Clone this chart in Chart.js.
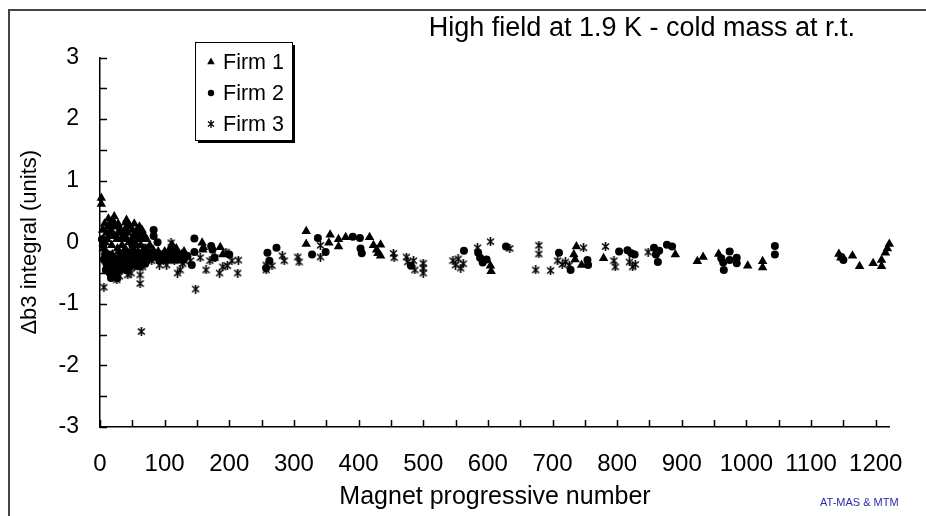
<!DOCTYPE html>
<html>
<head>
<meta charset="utf-8">
<script src="https://cdn.jsdelivr.net/npm/chart.js@4.4.1/dist/chart.umd.min.js"></script>
<style>
  html, body { margin: 0; padding: 0; background: #fff; }
  #wrap { width: 926px; height: 516px; }
</style>
</head>
<body>
<div id="wrap"><canvas id="b3Chart" width="926" height="516"></canvas></div>
<script>
const chartTitle = 'High field at 1.9 K - cold mass at r.t.'
const xTitle = 'Magnet progressive number'
const yTitle = 'Δb3 integral (units)'
const creditText = 'AT-MAS & MTM'
const seriesNames = ['Firm 1', 'Firm 2', 'Firm 3']

const xTickLabels = [0, 100, 200, 300, 400, 500, 600, 700, 800, 900, 1000, 1100, 1200]
const yTickLabels = [-3, -2, -1, 0, 1, 2, 3]
const xTickMarks = [0, 50, 100, 150, 200, 250, 300, 350, 400, 450, 500, 550, 600, 650, 700, 750, 800, 850, 900, 950, 1000, 1050, 1100, 1150, 1200]
const yTickMarks = [-3, -2.5, -2, -1.5, -1, -0.5, 0, 0.5, 1, 1.5, 2, 2.5, 3]

// Firm 1 (triangles): [magnet number, delta b3]
const firm1 = [
  [2, 0.72], [2, 0.62], [4, 0.2], [5, 0.05], [6, -0.1], [7, 0.3], [8, 0.0], [9, -0.15], [10, 0.15], [11, 0.05],
  [12, 0.25], [13, 0.38], [14, 0.1], [15, 0.3], [16, 0.12], [17, 0.2], [18, -0.05], [19, -0.2], [20, 0.35],
  [21, 0.1], [22, 0.42], [23, 0.28], [24, 0.25], [25, 0.1], [26, 0.05], [27, -0.1], [28, 0.3], [29, -0.15],
  [30, 0.15], [31, 0.22], [32, -0.2], [33, 0.05], [34, -0.05], [35, 0.09], [36, -0.3], [37, 0.1], [38, 0.2],
  [39, -0.1], [40, 0.32], [41, 0.36], [42, 0.05], [43, 0.15], [44, 0.28], [45, 0.0], [46, -0.2], [47, 0.25],
  [48, -0.15], [49, 0.05], [50, 0.2], [51, -0.1], [52, 0.1], [53, 0.3], [54, 0.15], [55, -0.05], [56, 0.1],
  [57, 0.2], [58, 0.05], [59, -0.15], [60, 0.12], [61, 0.25], [62, 0.15], [63, -0.05], [64, 0.08], [65, 0.2],
  [66, 0.12], [67, 0.05], [68, -0.1], [69, 0.1], [70, -0.2], [71, -0.1], [72, 0.05], [73, -0.25], [75, -0.15],
  [77, -0.05], [78, -0.25], [80, -0.15], [82, -0.12], [84, -0.2], [86, -0.2], [88, -0.25], [90, -0.15],
  [92, -0.2], [94, -0.3], [96, -0.25], [98, -0.2], [100, -0.15], [102, -0.2], [104, -0.22], [106, -0.3],
  [108, -0.1], [112, -0.05], [114, -0.2], [116, -0.15], [118, -0.1], [120, -0.25], [122, -0.2], [124, -0.3],
  [126, -0.2], [130, -0.15], [158, -0.01], [159, -0.12], [160, -0.08], [186, -0.08], [190, -0.2],
  [319, 0.18], [319, -0.03], [356, 0.12], [354, -0.01], [369, 0.05], [369, -0.07], [380, 0.08],
  [417, 0.08], [423, -0.05], [428, -0.12], [430, -0.18], [434, -0.04], [434, -0.22], [604, -0.38], [605, -0.47],
  [737, -0.07], [733, -0.2], [735, -0.28], [745, -0.37], [779, -0.26], [890, -0.2], [924, -0.31], [933, -0.24],
  [957, -0.19], [1002, -0.38], [1025, -0.31], [1025, -0.41], [1143, -0.19], [1146, -0.25], [1164, -0.22],
  [1175, -0.39], [1196, -0.34], [1209, -0.29], [1209, -0.39], [1215, -0.17], [1218, -0.1], [1221, -0.03]
]

// Firm 2 (circles)
const firm2 = [
  [3, 0.05], [5, -0.05], [6, -0.28], [8, -0.2], [9, -0.45], [10, -0.35], [12, -0.42], [13, -0.2], [14, -0.3],
  [15, -0.5], [16, -0.35], [17, -0.58], [18, -0.45], [20, -0.55], [21, -0.25], [22, -0.38], [24, -0.35],
  [25, -0.5], [27, -0.58], [28, -0.43], [30, -0.3], [31, -0.45], [32, -0.2], [34, -0.2], [35, -0.35], [37, -0.4],
  [38, -0.25], [40, -0.15], [41, -0.45], [42, -0.3], [44, -0.2], [45, -0.4], [47, -0.35], [48, -0.25], [50, -0.05],
  [52, -0.35], [53, -0.2], [54, -0.04], [55, -0.3], [57, -0.38], [58, -0.2], [60, -0.28], [62, -0.39], [64, -0.2],
  [65, -0.3], [68, -0.25], [70, -0.35], [72, -0.3], [74, -0.25], [76, -0.2], [80, -0.25], [83, 0.2], [83, 0.1],
  [89, 0.0], [92, -0.3], [95, -0.2], [100, -0.25], [105, -0.18], [110, -0.22], [115, -0.28], [120, -0.2],
  [130, -0.27], [135, -0.22], [142, -0.37], [146, 0.06], [146, -0.16], [172, -0.06], [174, -0.12], [177, -0.25],
  [200, -0.2], [259, -0.17], [257, -0.42], [262, -0.3], [273, -0.09], [328, -0.2], [337, 0.07], [349, -0.16],
  [391, 0.09], [402, 0.07], [403, -0.1], [405, -0.18], [481, -0.38], [563, -0.14], [585, -0.17], [588, -0.25],
  [592, -0.33], [598, -0.28], [628, -0.07], [710, -0.17], [728, -0.45], [754, -0.29], [755, -0.37], [803, -0.15],
  [816, -0.13], [822, -0.18], [827, -0.2], [857, -0.09], [860, -0.2], [863, -0.32], [865, -0.14], [877, -0.04],
  [885, -0.07], [961, -0.26], [964, -0.33], [965, -0.45], [974, -0.15], [974, -0.29], [985, -0.25], [985, -0.34],
  [1044, -0.06], [1044, -0.2], [1147, -0.24], [1150, -0.29]
]

// Firm 3 (stars)
const firm3 = [
  [4, -0.1], [6, -0.73], [8, -0.3], [10, -0.45], [12, -0.2], [15, -0.4], [18, -0.5], [20, -0.3], [23, -0.35],
  [26, -0.61], [28, -0.45], [30, -0.55], [33, -0.3], [35, -0.25], [38, -0.45], [40, -0.2], [43, -0.53], [45, -0.4],
  [48, -0.5], [50, -0.3], [53, -0.4], [55, -0.2], [58, -0.35], [62, -0.53], [62, -0.67], [64, -1.45], [66, -0.4],
  [68, -0.3], [72, -0.2], [75, -0.25], [80, -0.3], [85, -0.2], [88, -0.25], [92, -0.37], [98, -0.3], [103, -0.37],
  [106, -0.2], [110, -0.01], [112, -0.15], [115, -0.3], [118, -0.25], [120, -0.5], [124, -0.45], [128, -0.35],
  [130, -0.3], [140, -0.3], [148, -0.76], [155, -0.25], [164, -0.45], [170, -0.3], [178, -0.25], [185, -0.5],
  [190, -0.4], [195, -0.16], [197, -0.38], [204, -0.3], [214, -0.29], [213, -0.5],
  [257, -0.37], [257, -0.45], [266, -0.38], [282, -0.22], [285, -0.3], [306, -0.24], [308, -0.32], [341, -0.05],
  [341, -0.24], [454, -0.18], [455, -0.25], [474, -0.24], [476, -0.32], [485, -0.3], [487, -0.45], [500, -0.34],
  [500, -0.42], [500, -0.5], [546, -0.3], [550, -0.37], [554, -0.27], [558, -0.42], [562, -0.35], [584, -0.09],
  [604, 0.01], [634, -0.1], [679, -0.05], [679, -0.19], [674, -0.45], [697, -0.46], [708, -0.3], [715, -0.36],
  [720, -0.32], [726, -0.37], [748, -0.09], [782, -0.07], [795, -0.3], [797, -0.4], [819, -0.32], [824, -0.4],
  [828, -0.36], [848, -0.16]
]

const FONT = '"Liberation Sans", Arial, sans-serif'

// asterisk marker like the spreadsheet one: an x with a vertical bar
function makeStar(size, lw) {
  const c = document.createElement('canvas')
  c.width = size
  c.height = size
  const g = c.getContext('2d')
  const m = size / 2
  g.strokeStyle = '#000'
  g.lineWidth = lw
  g.beginPath()
  g.moveTo(1, 1.5); g.lineTo(size - 1, size - 1.5)
  g.moveTo(size - 1, 1.5); g.lineTo(1, size - 1.5)
  g.moveTo(m, 0); g.lineTo(m, size)
  g.stroke()
  return c
}
const starMarker = makeStar(9, 1.6)
const starLegend = makeStar(8, 1.3)

const toPoints = arr => arr.map(p => ({ x: p[0], y: p[1] }))

function drawMarker(ctx, style, radius, x, y) {
  if (style === starMarker) {
    ctx.drawImage(starLegend, x - starLegend.width / 2, y - starLegend.height / 2)
    return
  }
  ctx.fillStyle = '#000'
  ctx.beginPath()
  if (style === 'triangle') {
    ctx.moveTo(x, y - radius)
    ctx.lineTo(x + radius * 0.866, y + radius * 0.5)
    ctx.lineTo(x - radius * 0.866, y + radius * 0.5)
    ctx.closePath()
  } else {
    ctx.arc(x, y, radius, 0, Math.PI * 2)
  }
  ctx.fill()
}

const decorations = {
  id: 'decorations',
  beforeDraw(chart) {
    const ctx = chart.ctx
    ctx.save()
    ctx.fillStyle = '#fff'
    ctx.fillRect(0, 0, chart.width, chart.height)
    ctx.strokeStyle = '#444'
    ctx.lineWidth = 2
    ctx.beginPath()
    ctx.moveTo(9, chart.height + 2)
    ctx.lineTo(9, 10)
    ctx.lineTo(chart.width + 2, 10)
    ctx.stroke()
    ctx.restore()
  },
  beforeDatasetsDraw(chart) {
    const { ctx, scales: { x, y } } = chart
    ctx.save()
    ctx.strokeStyle = '#000'
    ctx.lineWidth = 1.5
    ctx.beginPath()
    yTickMarks.forEach(v => {
      const py = Math.round(y.getPixelForValue(v)) + 0.5
      ctx.moveTo(x.left, py)
      ctx.lineTo(x.left + 7, py)
    })
    xTickMarks.forEach(v => {
      const px = Math.round(x.getPixelForValue(v)) + 0.5
      ctx.moveTo(px, y.bottom)
      ctx.lineTo(px, y.bottom - 7)
    })
    ctx.stroke()
    ctx.restore()
  },
  afterDraw(chart) {
    const ctx = chart.ctx
    ctx.save()
    // title
    ctx.fillStyle = '#000'
    ctx.font = '27px ' + FONT
    ctx.textAlign = 'right'
    ctx.textBaseline = 'alphabetic'
    ctx.fillText(chartTitle, 855, 36)

    // legend box with shadow
    const bx = 195, by = 42, bw = 97, bh = 98
    ctx.fillStyle = '#000'
    ctx.fillRect(bx + 3, by + 3, bw, bh)
    ctx.fillStyle = '#fff'
    ctx.fillRect(bx, by, bw, bh)
    ctx.strokeStyle = '#000'
    ctx.lineWidth = 1
    ctx.strokeRect(bx + 0.5, by + 0.5, bw, bh)
    ctx.font = '21.5px ' + FONT
    ctx.textAlign = 'left'
    ctx.textBaseline = 'middle'
    chart.data.datasets.forEach((ds, i) => {
      const ly = 62 + i * 31
      drawMarker(ctx, ds.pointStyle, ds.pointRadius * 0.8, 211, ly)
      ctx.fillStyle = '#000'
      ctx.fillText(ds.label, 223, ly + 1)
    })

    // credit
    ctx.fillStyle = '#2b2ba8'
    ctx.font = '11px ' + FONT
    ctx.textBaseline = 'alphabetic'
    ctx.fillText(creditText, 820, 506)
    ctx.restore()
  }
}

const ctx = document.getElementById('b3Chart').getContext('2d')

new Chart(ctx, {
  type: 'scatter',
  data: {
    datasets: [
      {
        label: seriesNames[0],
        data: toPoints(firm1),
        pointStyle: 'triangle',
        pointRadius: 5.5,
        backgroundColor: '#000',
        borderWidth: 0,
        clip: false
      },
      {
        label: seriesNames[1],
        data: toPoints(firm2),
        pointStyle: 'circle',
        pointRadius: 4,
        backgroundColor: '#000',
        borderWidth: 0,
        clip: false
      },
      {
        label: seriesNames[2],
        data: toPoints(firm3),
        pointStyle: starMarker,
        pointRadius: 5,
        backgroundColor: '#000',
        borderWidth: 0,
        clip: false
      }
    ]
  },
  options: {
    responsive: false,
    animation: false,
    layout: { padding: { left: 0, top: 57.5, right: 32, bottom: 0 } },
    plugins: {
      legend: { display: false },
      title: { display: false },
      tooltip: { enabled: false }
    },
    scales: {
      x: {
        type: 'linear',
        min: 0,
        max: 1222,
        afterFit: scale => { scale.height = 89 },
        afterBuildTicks: scale => { scale.ticks = xTickLabels.map(v => ({ value: v })) },
        grid: { display: false, drawTicks: false },
        border: { display: true, color: '#000', width: 1.5 },
        ticks: {
          color: '#000',
          font: { family: FONT, size: 24 },
          padding: 23,
          maxRotation: 0,
          autoSkip: false,
          callback: v => String(v)
        },
        title: {
          display: true,
          text: xTitle,
          color: '#000',
          font: { family: FONT, size: 25 },
          padding: { top: 0, bottom: 4 }
        }
      },
      y: {
        type: 'linear',
        min: -3,
        max: 3,
        afterFit: scale => { scale.width = 100 },
        afterBuildTicks: scale => { scale.ticks = yTickLabels.map(v => ({ value: v })) },
        grid: { display: false, drawTicks: false },
        border: { display: true, color: '#000', width: 1.5 },
        ticks: {
          color: '#000',
          font: { family: FONT, size: 23 },
          padding: 21,
          callback: v => String(v)
        },
        title: {
          display: true,
          text: yTitle,
          color: '#000',
          font: { family: FONT, size: 22 },
          padding: { top: 17, bottom: 0 }
        }
      }
    }
  },
  plugins: [decorations]
})
</script>
</body>
</html>
